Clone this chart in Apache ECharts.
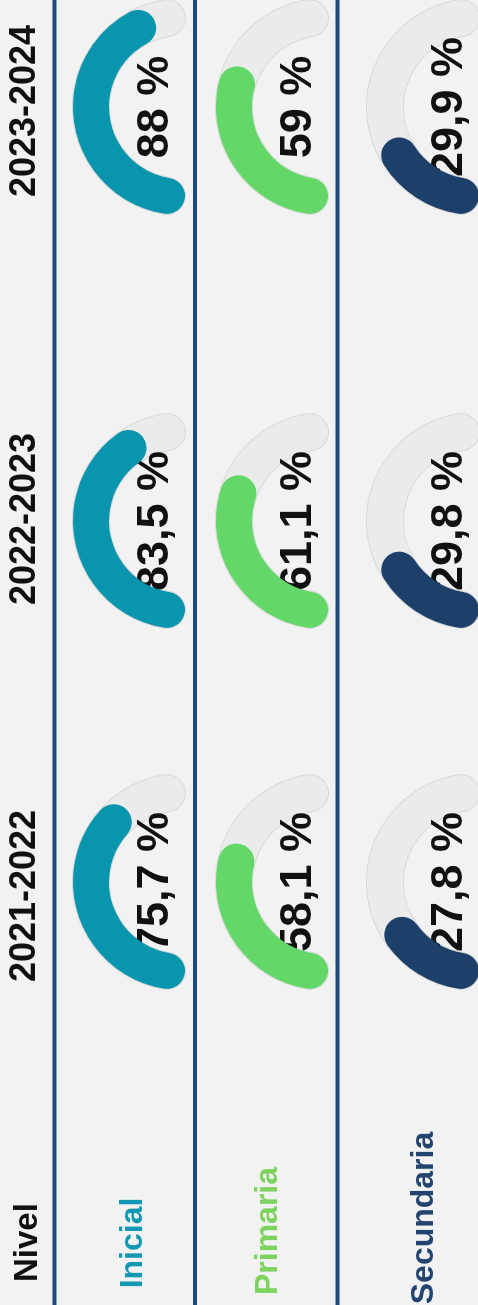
<!DOCTYPE html>
<html>
<head>
<meta charset="utf-8">
<script src="https://cdn.jsdelivr.net/npm/echarts@6/dist/echarts.min.js"></script>
<style>
	html, body { margin: 0; padding: 0; overflow: hidden; background: #f2f2f2; }
	/* chart is laid out as a wide table, then turned so it reads bottom-to-top */
	#chart {
		position: absolute;
		left: 0;
		top: 0;
		width: 1305px;
		height: 478px;
		transform-origin: 0 0;
		transform: translateY(1305px) rotate(-90deg);
	}
</style>
</head>
<body>
<div id="chart"></div>
<script>
const years = ['2021-2022', '2022-2023', '2023-2024']
const levels = ['Inicial', 'Primaria', 'Secundaria']
const inicialValues = [75.7, 83.5, 88]
const primariaValues = [58.1, 61.1, 59]
const secundariaValues = [27.8, 29.8, 29.9]
const headerLabel = 'Nivel'

const levelValues = [inicialValues, primariaValues, secundariaValues]
const levelColors = ['#0a95ae', '#63d868', '#1c406a']
const labelColors = ['#1398b3', '#7cd45e', '#22446e']

// layout (px in the unrotated frame)
const colX = [423, 784, 1198]
const rowY = [181, 324, 475]
const yearX = [409, 786, 1194]
const levelLabelX = [62, 74, 87]
const levelLabelY = [133, 268, 424]
const lineY = [54.5, 195, 337.5]

const fontFamily = '"Liberation Sans", Arial, sans-serif'

const hidden = { show: false }

const makeGauge = (value, cx, cy, color) => [
	{
		type: 'gauge',
		silent: true,
		center: [cx, cy],
		radius: 109,
		startAngle: 171,
		endAngle: 9,
		min: 0,
		max: 100,
		axisLine: {
			roundCap: true,
			lineStyle: { width: 38, color: [[1, '#d9d9d9']] },
		},
		pointer: hidden,
		axisTick: hidden,
		splitLine: hidden,
		axisLabel: hidden,
		title: hidden,
		detail: hidden,
		data: [{ value: 0 }],
	},
	{
		type: 'gauge',
		silent: true,
		center: [cx, cy],
		radius: 108,
		startAngle: 171,
		endAngle: 9,
		min: 0,
		max: 100,
		axisLine: {
			roundCap: true,
			lineStyle: { width: 36, color: [[1, '#ebebeb']] },
		},
		progress: {
			show: true,
			roundCap: true,
			width: 36,
			itemStyle: { color: color },
		},
		pointer: hidden,
		axisTick: hidden,
		splitLine: hidden,
		axisLabel: hidden,
		title: hidden,
		detail: {
			offsetCenter: [0, -25],
			fontSize: 45,
			fontWeight: 'bold',
			fontFamily: fontFamily,
			color: '#111111',
			formatter: v => String(v).replace('.', ',') + ' %',
		},
		data: [{ value: value }],
	},
]

const series = []
levelValues.forEach((vals, i) => {
	vals.forEach((v, j) => {
		series.push(...makeGauge(v, colX[j], rowY[i], levelColors[i]))
	})
})

const graphics = []
lineY.forEach(y => {
	graphics.push({
		type: 'line',
		silent: true,
		shape: { x1: 0, y1: y, x2: 1305, y2: y },
		style: { stroke: '#1f4a78', lineWidth: 4 },
	})
})
graphics.push({
	type: 'text',
	x: 23,
	y: 28,
	style: {
		text: headerLabel,
		font: 'bold 33px ' + fontFamily,
		fill: '#111111',
		align: 'left',
		verticalAlign: 'middle',
	},
})
years.forEach((t, j) => {
	graphics.push({
		type: 'text',
		x: yearX[j],
		y: 25,
		style: {
			text: t,
			font: 'bold 36px ' + fontFamily,
			fill: '#111111',
			align: 'center',
			verticalAlign: 'middle',
		},
	})
})
levels.forEach((t, i) => {
	graphics.push({
		type: 'text',
		x: levelLabelX[i],
		y: levelLabelY[i],
		style: {
			text: t,
			font: 'bold 32px ' + fontFamily,
			fill: labelColors[i],
			align: 'center',
			verticalAlign: 'middle',
		},
	})
})

const chart = echarts.init(document.getElementById('chart'))
chart.setOption({
	animation: false,
	backgroundColor: '#f2f2f2',
	graphic: graphics,
	series: series,
})
</script>
</body>
</html>
